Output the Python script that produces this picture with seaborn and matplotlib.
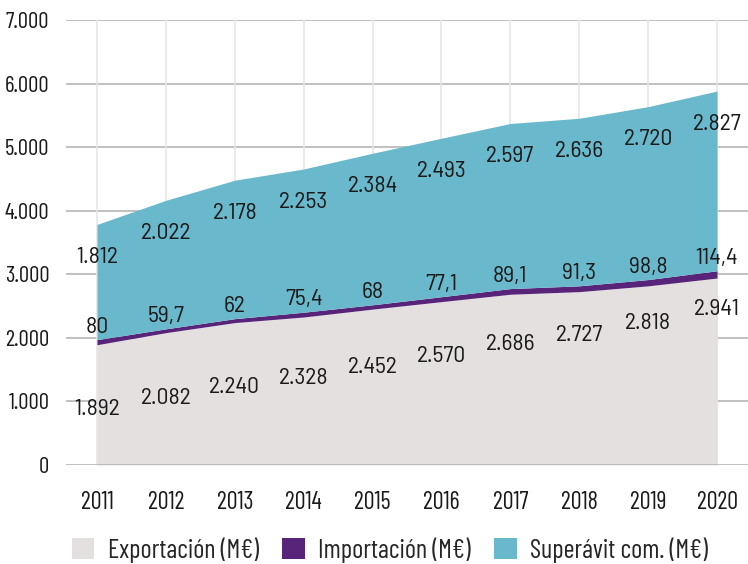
import numpy as np
import matplotlib
matplotlib.use("Agg")
import matplotlib.pyplot as plt
import seaborn as sns
from matplotlib.patches import Patch

# --- data (M€) ---
years = [2011, 2012, 2013, 2014, 2015, 2016, 2017, 2018, 2019, 2020]
exportacion = [1892, 2082, 2240, 2328, 2452, 2570, 2686, 2727, 2818, 2941]
importacion = [80, 59.7, 62, 75.4, 68, 77.1, 89.1, 91.3, 98.8, 114.4]
superavit = [1812, 2022, 2178, 2253, 2384, 2493, 2597, 2636, 2720, 2827]
series_names = ["Exportación (M€)", "Importación (M€)", "Superávit com. (M€)"]

colors = ["#e4e0e0", "#57247a", "#6ab8cb"]

sns.set_style("white")
FONT = ["Barlow Condensed", "DejaVu Sans"]
LABEL_FONT = ["Barlow Semi Condensed", "DejaVu Sans"]
plt.rcParams["font.family"] = FONT


def fmt_es(v):
    # spanish number format: 1.892 / 59,7
    if float(v).is_integer():
        return f"{int(v):,}".replace(",", ".")
    return f"{v:.1f}".replace(".", ",")


fig = plt.figure(figsize=(7.48, 5.64), dpi=100)
ax = fig.add_axes([66 / 748, 99 / 564, 682 / 748, 445 / 564])

ax.stackplot(years, exportacion, importacion, superavit, colors=colors, linewidth=0)

ax.set_xlim(2010.55, 2020.45)
ax.set_ylim(0, 7000)
ax.set_yticks(range(0, 7001, 1000))
ax.set_yticklabels([fmt_es(t) for t in range(0, 7001, 1000)])
ax.set_xticks(years)
ax.set_xticklabels([str(y) for y in years])

# grid: horizontal darker, vertical light, drawn under the areas
ax.set_axisbelow(True)
for t in range(1000, 7001, 1000):
    ax.axhline(t, color="#b5b5b5", lw=1.2, zorder=0)
ax.axhline(0, color="#b5b5b5", lw=1.2, zorder=3)
for y in years:
    ax.axvline(y, color="#e6e6e6", lw=1.2, zorder=0)

for s in ax.spines.values():
    s.set_visible(False)
ax.tick_params(axis="y", length=0, pad=12, labelsize=16.5, labelcolor="#1a1a1a")
ax.tick_params(axis="x", length=6, width=1.2, color="#e6e6e6", pad=13, labelsize=17.5,
               labelcolor="#1a1a1a")

# --- value labels ---
exp_arr = np.array(exportacion)
imp_top = exp_arr + np.array(importacion)
tot = imp_top + np.array(superavit)
exp_frac = np.linspace(0.46, 0.83, len(years))  # label height inside the export band

lab_kw = dict(ha="center", va="center", fontsize=17, color="#1a1a1a", family=LABEL_FONT)
for i, yr in enumerate(years):
    ax.text(yr, exp_arr[i] * exp_frac[i], fmt_es(exportacion[i]), **lab_kw)
    ax.annotate(fmt_es(importacion[i]), (yr, imp_top[i]), xytext=(0, 9),
                textcoords="offset points", **lab_kw)
    ax.annotate(fmt_es(superavit[i]), (yr, tot[i]), xytext=(0, -24),
                textcoords="offset points", **lab_kw)

handles = [Patch(facecolor=c, edgecolor="none") for c in colors]
fig.legend(handles, series_names, loc="center", bbox_to_anchor=(390 / 748, 1 - 550 / 564),
           ncol=3, frameon=False, fontsize=19, handlelength=0.85, handleheight=0.85,
           handletextpad=0.5, columnspacing=0.9)

fig.savefig("out.png", dpi=100)
